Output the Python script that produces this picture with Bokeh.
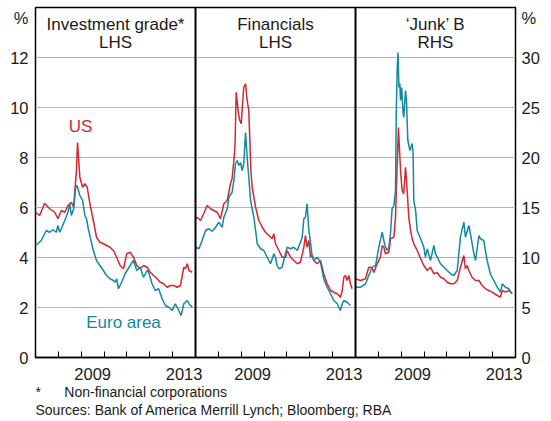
from bokeh.plotting import figure
from bokeh.models import Range1d, LinearAxis, FixedTicker, Span, Title
from bokeh.core.properties import value
from bokeh.embed import file_html
from bokeh.resources import INLINE

# ---------------- data (yields, %) ----------------
panel_titles = ["Investment grade*", "Financials", "\u2018Junk\u2019 B"]
panel_sides = ["LHS", "LHS", "RHS"]
year_labels = [2009, 2013]
panel_start = 2007
panel_years = 7

ig_us_t = [2007.00, 2007.18, 2007.40, 2007.62, 2007.84, 2007.98, 2008.13, 2008.28, 2008.42, 2008.57,
           2008.67, 2008.79, 2008.84, 2008.94, 2009.06, 2009.16, 2009.26, 2009.38, 2009.53, 2009.67,
           2009.82, 2009.97, 2010.11, 2010.26, 2010.41, 2010.55, 2010.70, 2010.85, 2010.99, 2011.14,
           2011.29, 2011.43, 2011.58, 2011.73, 2011.88, 2012.02, 2012.17, 2012.32, 2012.46, 2012.61,
           2012.76, 2012.90, 2013.05, 2013.20, 2013.34, 2013.49, 2013.56, 2013.64, 2013.71, 2013.86]
ig_us_v = [5.81, 5.68, 6.17, 5.95, 5.81, 5.55, 5.88, 5.81, 6.08, 6.21,
           6.01, 7.48, 8.60, 7.21, 6.81, 6.95, 6.81, 6.15, 5.48, 4.81,
           4.61, 4.55, 4.48, 4.41, 4.28, 4.01, 3.68, 3.55, 4.15, 4.21,
           4.01, 3.68, 3.55, 3.68, 3.61, 3.41, 3.28, 3.15, 3.01, 2.95,
           2.81, 2.88, 2.88, 2.81, 2.88, 3.61, 3.55, 3.75, 3.48, 3.41]

ig_eu_t = [2007.00, 2007.10, 2007.25, 2007.47, 2007.62, 2007.76, 2007.91, 2007.98, 2008.06, 2008.13,
           2008.28, 2008.42, 2008.50, 2008.57, 2008.67, 2008.76, 2008.82, 2008.94, 2009.06, 2009.16,
           2009.23, 2009.31, 2009.41, 2009.53, 2009.67, 2009.82, 2009.97, 2010.11, 2010.26, 2010.41,
           2010.48, 2010.55, 2010.63, 2010.77, 2010.92, 2011.14, 2011.29, 2011.43, 2011.58, 2011.73,
           2011.88, 2011.95, 2012.10, 2012.24, 2012.39, 2012.54, 2012.68, 2012.83, 2012.98, 2013.12,
           2013.27, 2013.37, 2013.49, 2013.64, 2013.71, 2013.86]
ig_eu_v = [4.48, 4.55, 4.68, 5.08, 5.01, 5.11, 5.01, 5.28, 5.01, 5.15,
           5.48, 5.81, 6.15, 5.68, 5.95, 6.81, 6.88, 6.48, 6.28, 5.68,
           5.55, 5.15, 4.75, 4.28, 3.88, 3.68, 3.48, 3.28, 3.15, 3.08,
           3.01, 3.15, 2.75, 3.01, 3.35, 3.68, 3.88, 3.48, 3.61, 3.21,
           3.48, 3.41, 2.95, 2.68, 2.75, 2.35, 2.08, 2.01, 1.88, 2.15,
           1.88, 1.68, 2.15, 2.28, 2.15, 2.01]

fin_us_t = [2007.00, 2007.07, 2007.22, 2007.36, 2007.51, 2007.66, 2007.80, 2007.95, 2008.09, 2008.24,
            2008.39, 2008.53, 2008.60, 2008.68, 2008.73, 2008.78, 2008.86, 2008.93, 2009.00, 2009.11,
            2009.19, 2009.26, 2009.33, 2009.37, 2009.42, 2009.48, 2009.63, 2009.77, 2009.92, 2010.06,
            2010.21, 2010.35, 2010.43, 2010.50, 2010.65, 2010.79, 2010.94, 2011.01, 2011.16, 2011.30,
            2011.45, 2011.59, 2011.74, 2011.81, 2011.88, 2011.96, 2012.03, 2012.10, 2012.18, 2012.32,
            2012.47, 2012.61, 2012.76, 2012.91, 2013.05, 2013.20, 2013.34, 2013.42, 2013.49, 2013.56,
            2013.63, 2013.71, 2013.78, 2013.85]
fin_us_v = [5.55, 5.61, 5.48, 5.75, 6.08, 5.95, 5.88, 5.81, 5.55, 6.15,
            6.28, 6.95, 7.15, 7.90, 8.50, 10.61, 9.90, 9.50, 9.35, 10.81,
            10.95, 10.28, 9.88, 8.90, 7.50, 6.81, 6.01, 5.48, 5.21, 5.01,
            4.88, 4.75, 4.95, 4.55, 4.28, 4.01, 4.01, 4.28, 4.01, 3.88,
            3.75, 3.81, 4.41, 4.88, 4.41, 4.68, 4.01, 4.10, 3.88, 3.75,
            3.88, 3.35, 2.95, 2.68, 2.61, 2.55, 2.41, 2.68, 3.21, 3.28,
            3.08, 3.28, 2.95, 2.75]

fin_eu_t = [2007.00, 2007.15, 2007.29, 2007.44, 2007.58, 2007.73, 2007.88, 2008.02, 2008.17, 2008.24,
            2008.39, 2008.46, 2008.60, 2008.68, 2008.75, 2008.82, 2008.90, 2008.97, 2009.04, 2009.11,
            2009.19, 2009.26, 2009.33, 2009.41, 2009.55, 2009.63, 2009.70, 2009.85, 2009.99, 2010.14,
            2010.28, 2010.43, 2010.50, 2010.57, 2010.65, 2010.79, 2010.86, 2011.01, 2011.16, 2011.30,
            2011.45, 2011.59, 2011.67, 2011.74, 2011.81, 2011.88, 2011.96, 2012.03, 2012.10, 2012.18,
            2012.32, 2012.47, 2012.61, 2012.76, 2012.91, 2013.05, 2013.20, 2013.34, 2013.42, 2013.49,
            2013.63, 2013.78]
fin_eu_v = [4.41, 4.35, 4.68, 5.08, 5.15, 5.05, 5.21, 5.41, 5.21, 5.61,
            5.95, 6.41, 6.61, 7.08, 7.75, 7.88, 7.68, 7.80, 7.48, 7.75,
            9.00, 8.00, 7.21, 6.28, 5.61, 5.08, 4.55, 4.35, 4.28, 4.01,
            3.75, 4.15, 4.00, 3.68, 3.55, 3.61, 3.88, 4.41, 4.35, 4.41,
            4.28, 4.61, 4.81, 5.55, 5.61, 6.15, 5.08, 4.61, 4.08, 3.88,
            4.01, 3.81, 3.15, 2.81, 2.55, 2.28, 2.15, 1.88, 2.15, 2.28,
            2.21, 2.08]

junk_us_t = [2007.00, 2007.22, 2007.44, 2007.58, 2007.73, 2007.80, 2007.95, 2008.09, 2008.17, 2008.24,
             2008.31, 2008.46, 2008.53, 2008.68, 2008.75, 2008.82, 2008.88, 2008.92, 2008.97, 2009.04,
             2009.11, 2009.19, 2009.26, 2009.33, 2009.41, 2009.48, 2009.55, 2009.70, 2009.85, 2009.99,
             2010.14, 2010.28, 2010.43, 2010.57, 2010.72, 2010.87, 2011.01, 2011.16, 2011.30, 2011.45,
             2011.59, 2011.74, 2011.81, 2011.88, 2011.96, 2012.10, 2012.25, 2012.40, 2012.54, 2012.69,
             2012.83, 2012.98, 2013.20, 2013.34, 2013.42, 2013.56, 2013.71, 2013.85]
junk_us_v = [7.87, 7.70, 7.87, 9.03, 8.98, 8.50, 9.37, 10.03, 11.20, 11.03,
             10.37, 10.53, 11.87, 12.03, 14.03, 19.03, 23.00, 21.00, 18.70, 16.70,
             16.37, 19.03, 16.70, 14.03, 12.70, 11.87, 11.37, 10.70, 9.87, 9.20,
             8.70, 9.03, 8.37, 8.50, 8.03, 7.87, 7.53, 7.37, 7.37, 7.70,
             9.03, 10.20, 8.87, 9.20, 8.70, 8.03, 7.70, 7.70, 7.20, 6.87,
             6.70, 6.53, 6.20, 6.03, 6.70, 6.53, 6.70, 6.37]

junk_eu_t = [2007.00, 2007.22, 2007.44, 2007.58, 2007.73, 2007.88, 2008.02, 2008.17, 2008.24, 2008.31,
             2008.39, 2008.46, 2008.53, 2008.60, 2008.68, 2008.75, 2008.78, 2008.82, 2008.86, 2008.90,
             2008.94, 2008.97, 2009.02, 2009.08, 2009.11, 2009.19, 2009.23, 2009.29, 2009.38, 2009.48,
             2009.52, 2009.55, 2009.63, 2009.70, 2009.85, 2009.99, 2010.06, 2010.14, 2010.28, 2010.43,
             2010.50, 2010.65, 2010.72, 2010.87, 2011.01, 2011.16, 2011.30, 2011.45, 2011.59, 2011.74,
             2011.81, 2011.96, 2012.03, 2012.18, 2012.25, 2012.40, 2012.47, 2012.61, 2012.76, 2012.90,
             2013.05, 2013.20, 2013.34, 2013.42, 2013.56, 2013.71, 2013.85]
junk_eu_v = [7.03, 7.03, 7.37, 8.20, 9.03, 9.20, 11.03, 12.53, 11.70, 11.03,
             10.70, 11.03, 12.37, 14.87, 15.20, 16.70, 24.00, 28.50, 30.50, 27.00,
             27.40, 25.70, 27.00, 24.50, 24.00, 26.70, 25.70, 21.70, 20.70, 21.40,
             20.50, 15.70, 14.70, 12.70, 11.87, 11.03, 10.03, 10.87, 9.70, 11.20,
             10.37, 9.70, 9.37, 9.03, 8.70, 8.37, 8.20, 8.70, 12.03, 13.53,
             12.03, 13.20, 12.37, 10.37, 9.70, 12.20, 11.87, 11.70, 9.70, 8.37,
             7.70, 7.03, 6.53, 7.37, 7.03, 6.87, 6.37]

lhs_ticks = [0, 2, 4, 6, 8, 10, 12]
rhs_ticks = [0, 5, 10, 15, 20, 25, 30]
footnotes = ["*\u00a0\u00a0\u00a0\u00a0\u00a0\u00a0Non-financial corporations",
             "Sources: Bank of America Merrill Lynch; Bloomberg; RBA"]

# ---------------- styles ----------------
RED = "#d6262f"
TEAL = "#13889e"
TXT = "#1a1a1a"
FONT = "Liberation Sans"

n_panels = len(panel_titles)
total = n_panels * panel_years

p = figure(width=551, height=421, output_backend="svg", toolbar_location=None,
           x_range=Range1d(0, total), y_range=Range1d(0, 14),
           min_border_left=35, min_border_right=36, min_border_top=7, min_border_bottom=64,
           background_fill_color="white", border_fill_color="white")

p.extra_y_ranges = {"rhs": Range1d(0, 35)}
# each panel gets its own calendar-year scale mapped onto one third of the frame
p.extra_x_ranges = {
    f"p{i}": Range1d(panel_start - i * panel_years, panel_start - i * panel_years + total)
    for i in range(n_panels)
}

p.outline_line_color = "black"
p.outline_line_width = 1.5

# grid
p.xgrid.visible = False
p.ygrid.ticker = FixedTicker(ticks=lhs_ticks[1:])
p.ygrid.grid_line_color = "#b5b5b5"
p.ygrid.grid_line_width = 1

# x axis: year labels centred in their year, minor ticks at year boundaries
label_pos, overrides = [], {}
for i in range(n_panels):
    for y in year_labels:
        pos = i * panel_years + (y - panel_start) + 0.5
        label_pos.append(pos)
        overrides[pos] = str(y)
xa = p.xaxis[0]
xa.ticker = FixedTicker(ticks=label_pos, minor_ticks=list(range(1, total)))
xa.major_label_overrides = overrides
xa.major_tick_in = 0
xa.major_tick_out = 0
xa.minor_tick_in = 6
xa.minor_tick_out = 0
xa.minor_tick_line_color = "black"
xa.axis_line_color = "black"
xa.axis_line_width = 1.5
xa.major_label_standoff = 10
xa.major_label_text_font = FONT
xa.major_label_text_font_size = "16.5px"
xa.major_label_text_color = TXT

# left axis
ya = p.yaxis[0]
ya.ticker = FixedTicker(ticks=lhs_ticks + [13.6])
ya.major_label_overrides = {13.6: "%"}
ya.major_tick_in = 0
ya.major_tick_out = 0
ya.minor_tick_in = 0
ya.minor_tick_out = 0
ya.axis_line_color = None
ya.major_label_standoff = 7
ya.major_label_text_font = FONT
ya.major_label_text_font_size = "16.5px"
ya.major_label_text_color = TXT

# right axis
ra = LinearAxis(y_range_name="rhs", ticker=FixedTicker(ticks=rhs_ticks + [34.0]),
                major_label_overrides={34.0: "%"})
ra.major_tick_in = 0
ra.major_tick_out = 0
ra.minor_tick_in = 0
ra.minor_tick_out = 0
ra.axis_line_color = None
ra.major_label_standoff = 6
ra.major_label_text_font = FONT
ra.major_label_text_font_size = "16.5px"
ra.major_label_text_color = TXT
p.add_layout(ra, "right")

# panel dividers
for i in range(1, n_panels):
    p.add_layout(Span(location=i * panel_years, dimension="height",
                      line_color="black", line_width=2))

# series
series = [
    (0, ig_us_t, ig_us_v, RED, "default"),
    (0, ig_eu_t, ig_eu_v, TEAL, "default"),
    (1, fin_us_t, fin_us_v, RED, "default"),
    (1, fin_eu_t, fin_eu_v, TEAL, "default"),
    (2, junk_us_t, junk_us_v, RED, "rhs"),
    (2, junk_eu_t, junk_eu_v, TEAL, "rhs"),
]
for panel, t, v, col, yr in series:
    p.line(t, v, x_range_name=f"p{panel}", y_range_name=yr,
           line_color=col, line_width=1.5)

# panel titles
centers = [i * panel_years + panel_years / 2 for i in range(n_panels)]
p.text(x=centers, y=[13.33] * n_panels, text=panel_titles,
       text_font=value(FONT), text_font_size="17px", text_align="center",
       text_baseline="middle", text_color=TXT)
p.text(x=centers, y=[12.6] * n_panels, text=panel_sides,
       text_font=value(FONT), text_font_size="17px", text_align="center",
       text_baseline="middle", text_color=TXT)

# series labels
p.text(x=[1.97], y=[9.24], text=["US"], text_font=value(FONT), text_font_size="17px",
       text_align="center", text_baseline="middle", text_color=RED)
p.text(x=[3.85], y=[1.42], text=["Euro area"], text_font=value(FONT), text_font_size="17px",
       text_align="center", text_baseline="middle", text_color=TEAL)

# footnotes
p.add_layout(Title(text="\n".join(footnotes), align="left", text_font=FONT,
                   text_font_size="14px", text_font_style="normal", text_color=TXT,
                   text_line_height=1.15, standoff=0), "below")

open("out.html", "w").write(file_html(p, INLINE))
